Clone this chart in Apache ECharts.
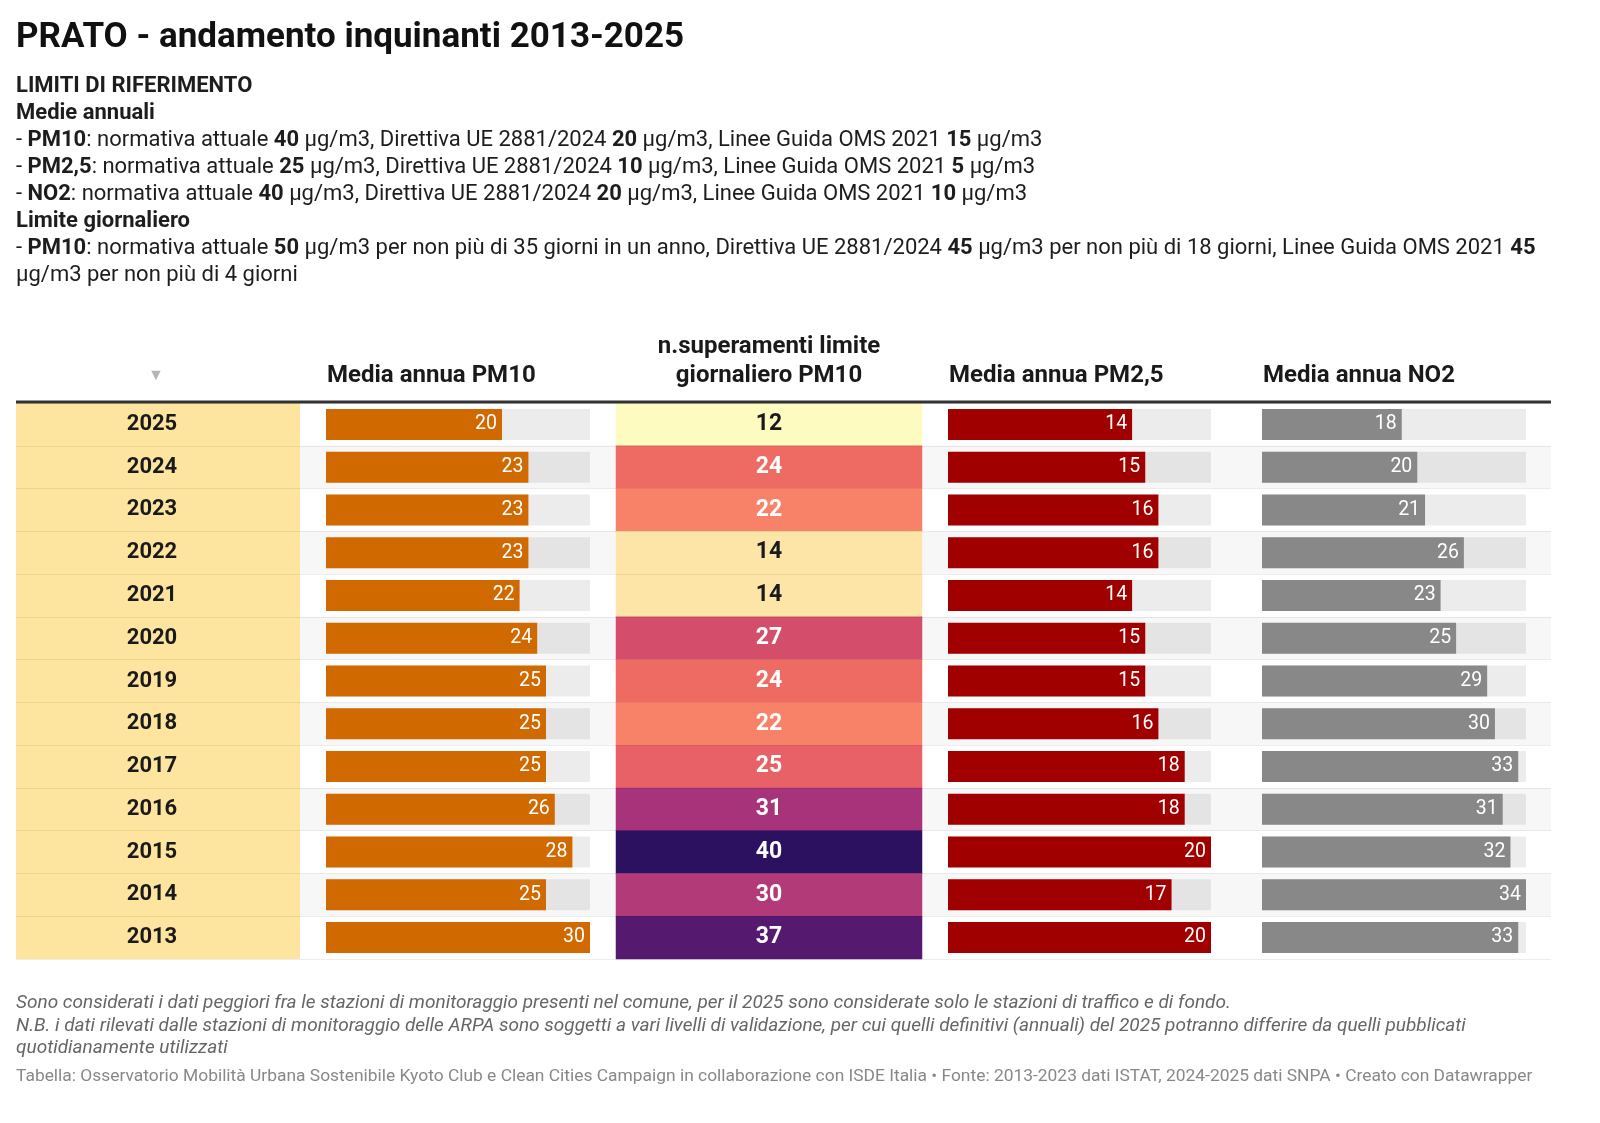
<!DOCTYPE html>
<html>
<head>
<meta charset="utf-8">
<script src="https://cdn.jsdelivr.net/npm/echarts@6/dist/echarts.min.js"></script>
<style>
html,body{margin:0;padding:0;background:#fff;}
#c{width:1600px;height:1123px;}
</style>
</head>
<body>
<div id="c"></div>
<script>
// ---- data ----
const years = ['2025','2024','2023','2022','2021','2020','2019','2018','2017','2016','2015','2014','2013'];
const pm10 = [20,23,23,23,22,24,25,25,25,26,28,25,30];
const exceed = [12,24,22,14,14,27,24,22,25,31,40,30,37];
const pm25 = [14,15,16,16,14,15,15,16,18,18,20,17,20];
const no2 = [18,20,21,26,23,25,29,30,33,31,32,34,33];
const headers = ['Media annua PM10', 'n.superamenti limite', 'giornaliero PM10', 'Media annua PM2,5', 'Media annua NO2'];
const heatColors = ['#fdfbbf','#fde5a8','#fcc993','#fbad80','#f99974','#f88268','#ee6b63','#df5769','#c9446f','#b23a78','#9b2c7c','#7c2377','#621c73','#47166a','#2b115f'];

const FONT = 'Roboto, "Noto Sans", sans-serif';
const TOP = 403, H = 556;

const chart = echarts.init(document.getElementById('c'), null, {renderer:'canvas'});

function catY(gi, extra){
  return Object.assign({type:'category', data:years, inverse:true, gridIndex:gi, show:false}, extra||{});
}
function valX(gi){
  return {type:'value', gridIndex:gi, min:0, max:'dataMax', show:false};
}
function barSeries(gi, data, color){
  return {
    type:'bar', xAxisIndex:gi, yAxisIndex:gi, data:data, barWidth:31,
    itemStyle:{color:color},
    showBackground:true, backgroundStyle:{color:'rgba(0,0,0,0.075)'},
    label:{show:true, position:'insideRight', distance:5, color:'#fff', fontFamily:FONT, fontSize:19.5},
    silent:true, animation:false
  };
}

const DS = 22;
const rich = {
  b:{fontWeight:'bold', fontFamily:FONT, fontSize:DS, fill:'#1d1d1d', color:'#1d1d1d'}
};
function txt(x, y, text, o){
  return {type:'text', x:x, y:y, z:50, silent:true, style:Object.assign({
    text:text, fontFamily:FONT, fontSize:DS, fill:'#1d1d1d', textVerticalAlign:'middle', rich:rich
  }, o||{})};
}

const graphics = [
  txt(16, 38, 'PRATO - andamento inquinanti 2013-2025', {fontSize:35, fontWeight:'bold', fill:'#111'}),
  txt(16, 86, 'LIMITI DI RIFERIMENTO', {fontWeight:'bold'}),
  txt(16, 113, 'Medie annuali', {fontWeight:'bold'}),
  txt(16, 140, '- {b|PM10}: normativa attuale {b|40} µg/m3, Direttiva UE 2881/2024 {b|20} µg/m3, Linee Guida OMS 2021 {b|15} µg/m3'),
  txt(16, 167, '- {b|PM2,5}: normativa attuale {b|25} µg/m3, Direttiva UE 2881/2024 {b|10} µg/m3, Linee Guida OMS 2021 {b|5} µg/m3'),
  txt(16, 194, '- {b|NO2}: normativa attuale {b|40} µg/m3, Direttiva UE 2881/2024 {b|20} µg/m3, Linee Guida OMS 2021 {b|10} µg/m3'),
  txt(16, 221, 'Limite giornaliero', {fontWeight:'bold'}),
  txt(16, 248, '- {b|PM10}: normativa attuale {b|50} µg/m3 per non più di 35 giorni in un anno, Direttiva UE 2881/2024 {b|45} µg/m3 per non più di 18 giorni, Linee Guida OMS 2021 {b|45}'),
  txt(16, 275, 'µg/m3 per non più di 4 giorni'),
  // column headers
  txt(156, 376, '▼', {fontSize:16, fill:'#b5b5b5', textAlign:'center'}),
  txt(327, 376, headers[0], {fontSize:24, fontWeight:'bold', fill:'#1a1a1a'}),
  txt(769, 347, headers[1], {fontSize:24, fontWeight:'bold', fill:'#1a1a1a', textAlign:'center'}),
  txt(769, 376, headers[2], {fontSize:24, fontWeight:'bold', fill:'#1a1a1a', textAlign:'center'}),
  txt(949, 376, headers[3], {fontSize:24, fontWeight:'bold', fill:'#1a1a1a'}),
  txt(1263, 376, headers[4], {fontSize:24, fontWeight:'bold', fill:'#1a1a1a'}),
  {type:'rect', z:60, silent:true, shape:{x:16, y:400.5, width:1535, height:3}, style:{fill:'#333'}},
  // footer
  txt(16, 1003, 'Sono considerati i dati peggiori fra le stazioni di monitoraggio presenti nel comune, per il 2025 sono considerate solo le stazioni di traffico e di fondo.', {fontSize:19, fontStyle:'italic', fill:'#666'}),
  txt(16, 1026, 'N.B. i dati rilevati dalle stazioni di monitoraggio delle ARPA sono soggetti a vari livelli di validazione, per cui quelli definitivi (annuali) del 2025 potranno differire da quelli pubblicati', {fontSize:19, fontStyle:'italic', fill:'#666'}),
  txt(16, 1048, 'quotidianamente utilizzati', {fontSize:19, fontStyle:'italic', fill:'#666'}),
  txt(16, 1077, 'Tabella: Osservatorio Mobilità Urbana Sostenibile Kyoto Club e Clean Cities Campaign in collaborazione con ISDE Italia • Fonte: 2013-2023 dati ISTAT, 2024-2025 dati SNPA • Creato con Datawrapper', {fontSize:17.4, fill:'#888'})
];

const option = {
  animation:false,
  backgroundColor:'#fff',
  textStyle:{fontFamily:FONT},
  grid:[
    {left:16, width:1535, top:TOP, height:H},   // 0 background striping
    {left:16, width:284, top:TOP, height:H},    // 1 year column
    {left:326, width:264, top:TOP, height:H},   // 2 PM10
    {left:616, width:306, top:TOP, height:H},   // 3 exceedances
    {left:948, width:263, top:TOP, height:H},   // 4 PM2.5
    {left:1262, width:264, top:TOP, height:H},  // 5 NO2
    {left:16, width:1535, top:TOP, height:H}    // 6 separators overlay
  ],
  xAxis:[
    {type:'value', gridIndex:0, show:false},
    {type:'value', gridIndex:1, show:false},
    valX(2),
    {type:'category', gridIndex:3, data:['n'], show:false},
    valX(4),
    valX(5),
    {type:'value', gridIndex:6, show:false}
  ],
  yAxis:[
    catY(0, {show:true, z:0, axisLine:{show:false}, axisTick:{show:false}, axisLabel:{show:false},
      splitLine:{show:false}, splitArea:{show:true, areaStyle:{color:['#ffffff','#f7f7f7']}}}),
    catY(1, {show:true, z:1, axisLine:{show:false}, axisTick:{show:false}, splitLine:{show:false},
      splitArea:{show:true, areaStyle:{color:['#fde49f']}},
      axisLabel:{show:true, align:'center', margin:-136, fontFamily:FONT, fontSize:22, fontWeight:'bold', color:'#1a1a1a'}}),
    catY(2), catY(3), catY(4), catY(5),
    catY(6, {show:true, z:10, axisLine:{show:false}, axisTick:{show:false}, axisLabel:{show:false},
      splitLine:{show:true, lineStyle:{color:'rgba(0,0,0,0.07)', width:1}}, splitArea:{show:false}})
  ],
  visualMap:{
    type:'continuous', show:false, seriesIndex:1, min:12, max:40, dimension:2,
    inRange:{color:heatColors}
  },
  series:[
    barSeries(2, pm10, '#d06a00'),
    {
      type:'heatmap', xAxisIndex:3, yAxisIndex:3,
      data:exceed.map((v,i)=>[0,i,v]),
      silent:true,
      label:{show:true, fontFamily:FONT, fontSize:23, fontWeight:'bold',
        formatter:p=> p.value[2] < 20 ? '{d|'+p.value[2]+'}' : '{w|'+p.value[2]+'}',
        rich:{d:{color:'#1a1a1a', fontSize:23, fontWeight:'bold', fontFamily:FONT},
              w:{color:'#ffffff', fontSize:23, fontWeight:'bold', fontFamily:FONT}}}
    },
    barSeries(4, pm25, '#a10000'),
    barSeries(5, no2, '#888888')
  ],
  graphic:graphics
};
chart.setOption(option);
</script>
</body>
</html>
